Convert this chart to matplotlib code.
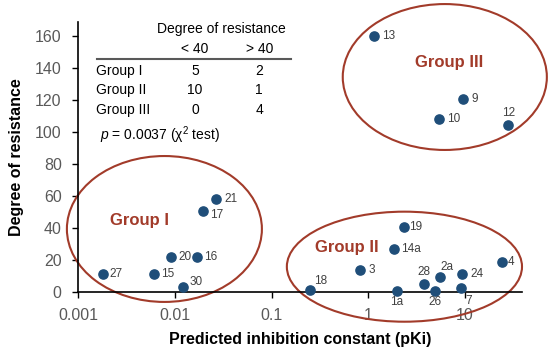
import numpy as np
import matplotlib.pyplot as plt
from matplotlib.patches import Ellipse
from matplotlib.lines import Line2D

plt.rcParams['font.family'] = ['Liberation Sans', 'DejaVu Sans']
plt.rcParams['mathtext.fontset'] = 'custom'
plt.rcParams['mathtext.rm'] = 'Liberation Sans'
plt.rcParams['mathtext.it'] = 'Liberation Sans:italic'

# compound labels, predicted Ki and degree of resistance
names = ['27', '15', '20', '16', '30', '17', '21',
         '13', '9', '10', '12',
         '18', '3', '1a', '14a', '19', '28', '26', '2a', '24', '7', '4']
ki = [0.0018, 0.0061, 0.0091, 0.0170, 0.0120, 0.0196, 0.0264,
      1.15, 9.6, 5.4, 28.2,
      0.247, 0.82, 1.98, 1.85, 2.33, 3.76, 4.89, 5.58, 9.3, 9.2, 24.3]
resist = [11.3, 11.1, 21.7, 21.7, 2.8, 50.8, 57.9,
          160.2, 120.9, 108.2, 104.3,
          1.3, 13.8, 0.4, 27.0, 40.7, 4.6, 0.6, 9.2, 10.9, 2.3, 18.6]

# label offsets (points) and alignment
offs = {'27': (5, 0), '15': (5, 0), '20': (5, 0), '16': (5, 0), '30': (5, 4),
        '17': (5, -3), '21': (6, 0), '13': (6, 0), '9': (6, 0), '10': (6, 0),
        '12': (0, 9), '18': (3, 6), '3': (6, 0), '1a': (0, -8), '14a': (5, 0),
        '19': (4, 0), '28': (0, 9), '26': (0, -8), '2a': (5, 7.5),
        '24': (6, 0), '7': (5, -9), '4': (4, 0)}
centered = ['12', '1a', '28', '26', '2a', '7']

xticks = [0.001, 0.01, 0.1, 1, 10]
xticklabels = ['0.001', '0.01', '0.1', '1', '10']
yticks = [0, 20, 40, 60, 80, 100, 120, 140, 160]

tab_rows = ['Group I', 'Group II', 'Group III']
tab_lo = ['5', '10', '0']
tab_hi = ['2', '1', '4']

red = '#A23B2A'
blue = '#1F4E79'
gray = '#595959'

fig = plt.figure(figsize=(5.5, 3.53), dpi=100)
ax = fig.add_axes([0.1424, 0.1737, 0.8067, 0.764])

ax.scatter(ki, resist, s=44, color=blue, zorder=3, clip_on=False)
for n, x, y in zip(names, ki, resist):
    ha = 'center' if n in centered else 'left'
    ax.annotate(n, (x, y), xytext=offs[n], textcoords='offset points',
                ha=ha, va='center', fontsize=8.5, color='#404040')

ax.set_xscale('log')
ax.set_xlim(0.001, 39)
ax.set_ylim(0, 169)
ax.set_xticks(xticks)
ax.set_xticklabels(xticklabels)
ax.minorticks_off()
ax.set_yticks(yticks)
ax.tick_params(labelsize=11.5, labelcolor=gray, length=4, width=1, direction='out')
ax.tick_params(axis='x', pad=7.5)
ax.tick_params(axis='y', pad=8)
for s in ['top', 'right']:
    ax.spines[s].set_visible(False)
for s in ['left', 'bottom']:
    ax.spines[s].set_linewidth(1.2)

ax.set_xlabel('Predicted inhibition constant (pKi)', fontsize=11.5, fontweight='bold', labelpad=7)
ax.set_ylabel('Degree of resistance', fontsize=11.5, fontweight='bold', labelpad=8)

# group ellipses (axes fraction)
for cx, cy, w, h in [(0.194, 0.2325, 0.4395, 0.541), (0.735, 0.0927, 0.530, 0.408),
                     (0.826, 0.796, 0.46, 0.541)]:
    ax.add_patch(Ellipse((cx, cy), w, h, transform=ax.transAxes, fill=False,
                         edgecolor=red, linewidth=1.5, clip_on=False, zorder=2))
ax.text(0.00425, 44.9, 'Group I', color=red, fontsize=12, fontweight='bold', ha='center', va='center')
ax.text(0.597, 27.4, 'Group II', color=red, fontsize=12, fontweight='bold', ha='center', va='center')
ax.text(6.8, 143.9, 'Group III', color=red, fontsize=12, fontweight='bold', ha='center', va='center')

# contingency table (figure pixels -> fraction)
W, H = 550, 353
def ft(x, y, s, **kw):
    fig.text(x / W, 1 - y / H, s, fontsize=10, color='black', va='center', **kw)

ft(221, 28.7, 'Degree of resistance', ha='center')
ft(195, 49.3, '< 40', ha='center')
ft(260, 49.3, '> 40', ha='center')
fig.add_artist(Line2D([96.7 / W, 291 / W], [1 - 59 / H, 1 - 59 / H], color='#595959', linewidth=1.5))
for i, r in enumerate(tab_rows):
    yy = 70.7 + 19.7 * i
    ft(95.7, yy, r, ha='left')
    ft(195, yy, tab_lo[i], ha='center')
    ft(259, yy, tab_hi[i], ha='center')
ft(100, 135, r'$p$ = 0.0037 (χ$^{2}$ test)', ha='left')

fig.savefig('out.png', dpi=100)
